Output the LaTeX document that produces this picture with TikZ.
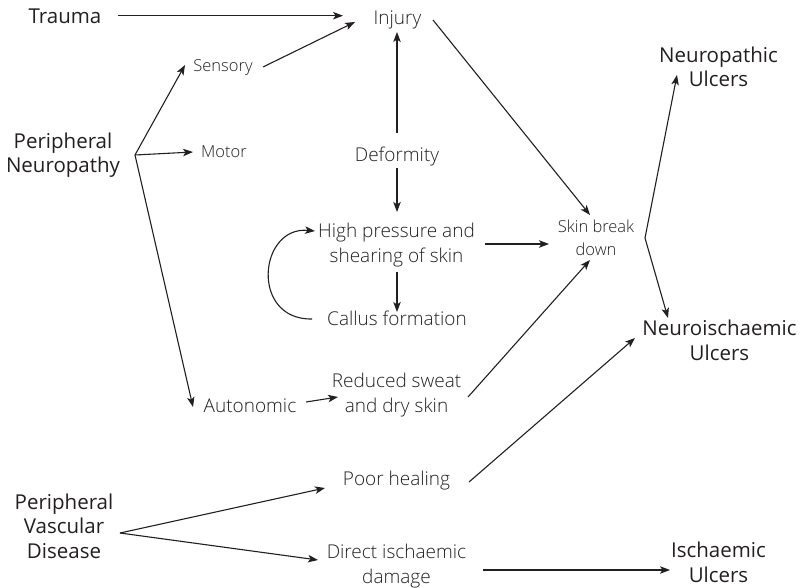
\documentclass[tikz,border=0pt]{standalone}
\usepackage{fontspec}
\setmainfont{Open Sans}
\IfFontExistsTF{Open Sans Light}{\newfontfamily\lightfont{Open Sans Light}}{\newfontfamily\lightfont{Open Sans}}
\usetikzlibrary{arrows.meta}
\definecolor{ink}{HTML}{231F20}
\begin{document}
\begin{tikzpicture}[x=1pt,y=-1pt,
  every node/.style={inner sep=0pt, anchor=base, align=center, text=ink},
  big/.style={font=\fontsize{20.5}{24.5}\selectfont},
  mid/.style={font=\lightfont\fontsize{19}{25}\selectfont},
  sml/.style={font=\lightfont\fontsize{16.5}{23}\selectfont},
  arr/.style={draw=ink, line width=1.1pt, -{Stealth[length=10pt,width=7.5pt,inset=2.5pt]}}]
\useasboundingbox (0,0) rectangle (800,588);

% single-line nodes: anchored at baseline; multi-line nodes: anchored at baseline of last line
\node[big] (trauma) at (65,24) {Trauma};
\node[mid] (injury) at (397.5,25) {Injury};
\node[sml] (sensory) at (223,72) {Sensory};
\node[sml] (motor) at (224,158) {Motor};
\node[big] (pn) at (63,173) {Peripheral\\Neuropathy};
\node[mid] (deform) at (397,162) {Deformity};
\node[mid] (hp) at (396.5,262) {High pressure and\\shearing of skin};
\node[mid] (callus) at (397,325) {Callus formation};
\node[sml] (skin) at (596,255) {Skin break\\down};
\node[big] (nulc) at (718.5,87) {Neuropathic\\Ulcers};
\node[big] (niulc) at (719.5,360) {Neuroischaemic\\Ulcers};
\node[mid] (auto) at (250,412) {Autonomic};
\node[mid] (reduced) at (396.5,412) {Reduced sweat\\and dry skin};
\node[mid] (poor) at (396.5,485) {Poor healing};
\node[big] (pvd) at (64,558) {Peripheral\\Vascular\\Disease};
\node[mid] (direct) at (396.5,583) {Direct ischaemic\\damage};
\node[big] (iulc) at (718.5,582) {Ischaemic\\Ulcers};

\coordinate (pnb) at ([shift={(72,-18)}]pn.base);
\coordinate (skb) at ([shift={(49,-17)}]skin.base);
\coordinate (pvb) at ([shift={(56,-25)}]pvd.base);

\draw[arr] ([shift={(53,-8.3)}]trauma.base) -- ([shift={(-54.5,-9.3)}]injury.base);
\draw[arr] ([shift={(40,-5)}]sensory.base) -- ([shift={(-42.5,-3)}]injury.base);
\draw[arr] (pnb) -- ([shift={(-38,-7)}]sensory.base);
\draw[arr] (pnb) -- ([shift={(-31,-6)}]motor.base);
\draw[arr] (pnb) -- ([shift={(-57,-5)}]auto.base);
\draw[arr] ([shift={(0,-29)}]deform.base) -- ([shift={(-0.5,7)}]injury.base);
\draw[arr] ([shift={(0,6)}]deform.base) -- ([shift={(0.5,-50)}]hp.base);
\draw[arr] ([shift={(35.5,-5)}]injury.base) -- ([shift={(-6,-40)}]skin.base);
\draw[arr] ([shift={(88.5,-18)}]hp.base) -- ([shift={(-47,-11)}]skin.base);
\draw[arr] ([shift={(0.5,10)}]hp.base) -- ([shift={(0,-13)}]callus.base);
\draw[arr] ([shift={(-85,-6)}]callus.base) .. controls ([shift={(-147,-5)}]callus.base) and ([shift={(-138,-36)}]hp.base) .. ([shift={(-81.5,-31)}]hp.base);
\draw[arr] ([shift={(56,-10)}]auto.base) -- ([shift={(-58.5,-15)}]reduced.base);
\draw[arr] ([shift={(71.5,-15)}]reduced.base) -- ([shift={(-6,5)}]skin.base);
\draw[arr] (skb) -- ([shift={(-41.5,-12)}]nulc.base);
\draw[arr] (skb) -- ([shift={(-51.5,-42)}]niulc.base);
\draw[arr] ([shift={(72.5,-3)}]poor.base) -- ([shift={(-84.5,-22)}]niulc.base);
\draw[arr] (pvb) -- ([shift={(-71.5,3)}]poor.base);
\draw[arr] (pvb) -- ([shift={(-78.5,-23)}]direct.base);
\draw[arr] ([shift={(86.5,-13)}]direct.base) -- ([shift={(-48.5,-12)}]iulc.base);
\end{tikzpicture}
\end{document}
